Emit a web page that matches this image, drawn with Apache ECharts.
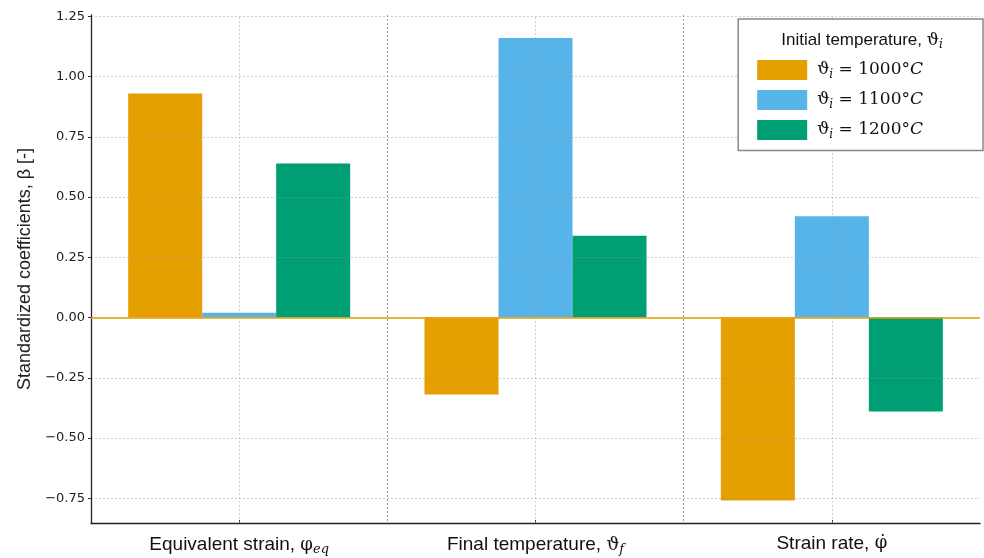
<!DOCTYPE html>
<html>
<head>
<meta charset="utf-8">
<script src="https://cdn.jsdelivr.net/npm/echarts@6/dist/echarts.min.js"></script>
<style>
  html, body { margin: 0; padding: 0; background: #fff; }
  #chart { width: 984px; height: 558px; }
</style>
</head>
<body>
<div id="chart"></div>
<script>
// Predictor names (plain part), their symbol and italic subscript
const categories = ['Equivalent strain, ', 'Final temperature, ', 'Strain rate, '];
const categorySymbols = ['φ', 'ϑ', 'φ̇'];
const categorySubscripts = ['eq', 'f', ''];

// Initial temperatures (°C) used for the legend entries
const initialTemps = ['1000', '1100', '1200'];

// Standardized regression coefficients per initial temperature
const beta1000 = [0.93, -0.32, -0.76];
const beta1100 = [0.02, 1.16, 0.42];
const beta1200 = [0.64, 0.34, -0.39];

// Y tick positions
const yTicks = [-0.75, -0.5, -0.25, 0, 0.25, 0.5, 0.75, 1.0, 1.25];

const colors = ['#E69F00', '#56B4E9', '#009E73'];

const chart = echarts.init(document.getElementById('chart'), null, { renderer: 'canvas' });

const fmtTick = v => v.toFixed(2).replace('-', '\u2212');

const centreLines = {
  silent: true,
  symbol: 'none',
  z: 6,
  label: { show: false },
  lineStyle: { color: 'rgba(150,150,150,0.45)', type: [2, 2], width: 1 },
  data: categories.map(c => ({ xAxis: c }))
};

const zeroLine = {
  silent: true,
  symbol: 'none',
  z: 7,
  label: { show: false },
  lineStyle: { color: '#E69F00', type: 'solid', width: 1.5 },
  data: [{ yAxis: 0 }]
};

function barSeries(i, values, extra) {
  return Object.assign({
    name: initialTemps[i],
    type: 'bar',
    data: values,
    barWidth: 74,
    barGap: '0%',
    itemStyle: { color: colors[i] },
    emphasis: { disabled: true }
  }, extra || {});
}

const option = {
  animation: false,
  backgroundColor: '#fff',
  grid: { left: 91, right: 4, top: 15, bottom: 35, containLabel: false },
  xAxis: {
    type: 'category',
    data: categories,
    z: 3,
    axisLine: { show: true, onZero: false, lineStyle: { color: '#222', width: 1.3 } },
    axisTick: { show: true, alignWithLabel: true, inside: true, length: 3, lineStyle: { color: '#333' } },
    splitLine: {
      show: true,
      showMinLine: false,
      showMaxLine: false,
      lineStyle: { color: '#999', type: [2, 2], width: 1 }
    },
    axisLabel: {
      interval: 0,
      hideOverlap: false,
      margin: 11,
      color: '#111',
      fontFamily: 'Liberation Sans',
      fontSize: 19,
      formatter: (v, i) => {
        let s = '{t|' + v + '}{g|' + categorySymbols[i] + '}';
        if (categorySubscripts[i]) s += '{s|' + categorySubscripts[i] + '}';
        return s;
      },
      rich: {
        t: { fontFamily: 'Liberation Sans', fontSize: 19, color: '#111' },
        g: { fontFamily: 'DejaVu Serif', fontSize: 18, color: '#111' },
        s: { fontFamily: 'DejaVu Serif', fontStyle: 'italic', fontSize: 13, color: '#111', padding: [9, 0, 0, 0] }
      }
    }
  },
  yAxis: {
    type: 'value',
    min: -0.853,
    max: 1.256,
    z: 3,
    name: 'Standardized coefficients, β [-]',
    nameLocation: 'middle',
    nameGap: 51,
    nameTextStyle: { fontFamily: 'Liberation Sans', fontSize: 18, color: '#222' },
    axisLine: { show: true, lineStyle: { color: '#222', width: 1.3 } },
    axisTick: { show: true, length: 3, customValues: yTicks, lineStyle: { color: '#333' } },
    splitLine: { show: true, lineStyle: { color: 'rgba(150,150,150,0.45)', type: [2, 2], width: 1 } },
    axisLabel: {
      customValues: yTicks,
      margin: 6,
      color: '#222',
      fontFamily: 'DejaVu Sans',
      fontSize: 13,
      formatter: fmtTick
    }
  },
  legend: {
    orient: 'vertical',
    right: 1,
    top: 19,
    z: 10,
    padding: [41, 60, 10, 19],
    itemWidth: 50,
    itemHeight: 20,
    itemGap: 9.5,
    icon: 'rect',
    backgroundColor: '#fff',
    borderColor: '#888',
    borderWidth: 1.5,
    data: initialTemps,
    formatter: name => '{v|ϑ}{s|i}{t| = ' + name + '°}{c|C}',
    textStyle: {
      rich: {
        v: { fontFamily: 'DejaVu Serif', fontSize: 17, color: '#111', padding: [0, 0, 0, 5] },
        s: { fontFamily: 'DejaVu Serif', fontStyle: 'italic', fontSize: 12, color: '#111', padding: [9, 0, 0, 0] },
        t: { fontFamily: 'DejaVu Serif', fontSize: 17, color: '#111' },
        c: { fontFamily: 'DejaVu Serif', fontStyle: 'italic', fontSize: 17, color: '#111' }
      }
    }
  },
  graphic: [{
    type: 'text',
    z: 20,
    x: 862,
    y: 30,
    style: {
      text: '{a|Initial temperature, }{v|ϑ}{s|i}',
      textAlign: 'center',
      rich: {
        a: { fontFamily: 'Liberation Sans', fontSize: 17, fill: '#111' },
        v: { fontFamily: 'DejaVu Serif', fontSize: 17, fill: '#111' },
        s: { fontFamily: 'DejaVu Serif', fontStyle: 'italic', fontSize: 12, fill: '#111', padding: [9, 0, 0, 0] }
      }
    }
  }],
  series: [
    barSeries(0, beta1000, { markLine: zeroLine }),
    barSeries(1, beta1100, { markLine: centreLines }),
    barSeries(2, beta1200)
  ]
};

chart.setOption(option);
</script>
</body>
</html>
